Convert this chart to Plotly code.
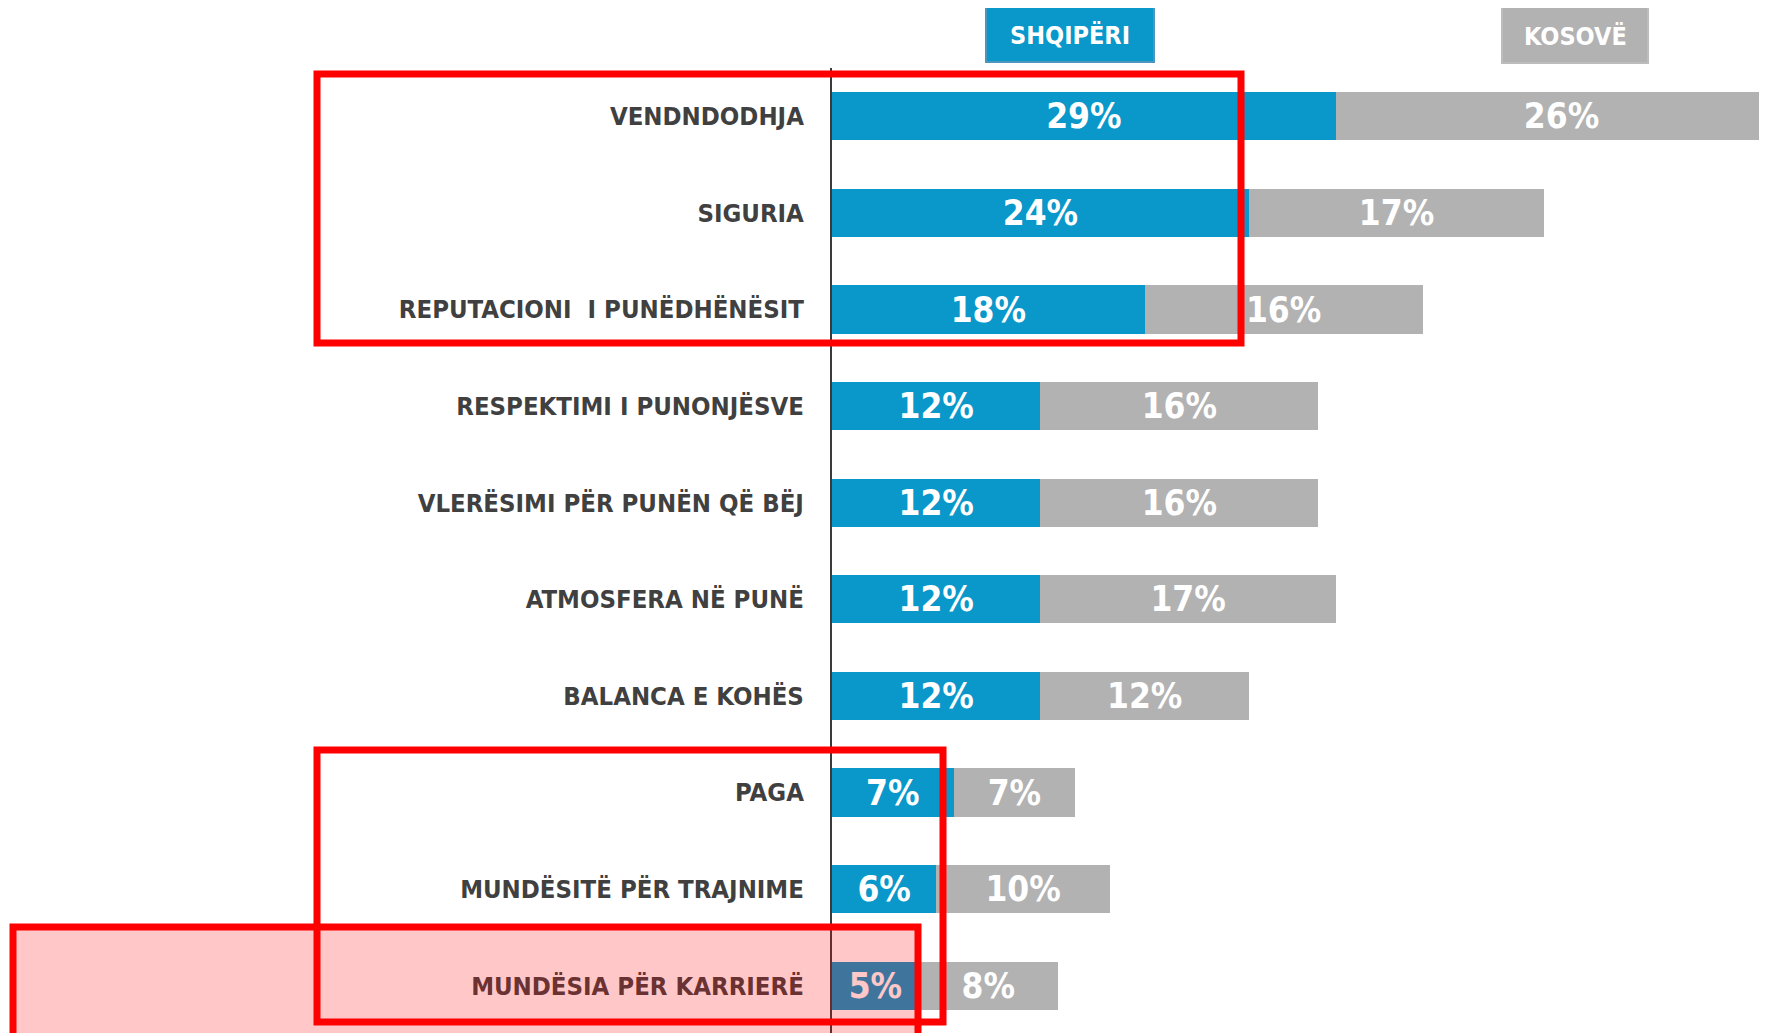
import plotly.graph_objects as go

# ---- data ----
categories = [
    "VENDNDODHJA",
    "SIGURIA",
    "REPUTACIONI  I PUNËDHËNËSIT",
    "RESPEKTIMI I PUNONJËSVE",
    "VLERËSIMI PËR PUNËN QË BËJ",
    "ATMOSFERA NË PUNË",
    "BALANCA E KOHËS",
    "PAGA",
    "MUNDËSITË PËR TRAJNIME",
    "MUNDËSIA PËR KARRIERË",
]
series_names = ["SHQIPËRI", "KOSOVË"]
shqiperi = [29, 24, 18, 12, 12, 12, 12, 7, 6, 5]
kosove = [26, 17, 16, 16, 16, 17, 12, 7, 10, 8]

W, H = 1767, 1033
OFF = 8  # page body margin compensation
FONT = "DejaVu Sans Condensed, Liberation Sans Narrow, sans-serif"
BLUE = "#0A97CA"
GRAY = "#B2B2B2"

fig = go.Figure()
for name, vals, col in [(series_names[0], shqiperi, BLUE), (series_names[1], kosove, GRAY)]:
    fig.add_trace(go.Bar(
        y=categories, x=vals, orientation="h", name=name,
        marker=dict(color=col, line=dict(width=0)),
        text=[f"{v}%" for v in vals],
        textposition="inside", insidetextanchor="middle",
        textfont=dict(family=FONT, size=35, color="white", weight="bold"),
        constraintext="none", showlegend=False,
    ))

def fx(x):  # reference pixel -> paper x
    return (x - OFF) / W

def fy(y):  # reference pixel -> paper y
    return 1 - (y - OFF) / H

fig.update_layout(
    width=W, height=H,
    margin=dict(l=0, r=0, t=0, b=0),
    paper_bgcolor="white", plot_bgcolor="white",
    barmode="stack", bargap=0.5,
    font=dict(family=FONT),
    xaxis=dict(domain=[fx(832), 1], range=[0, (W - 832 + OFF) / 17.37], visible=False),
    yaxis=dict(domain=[fy(1034), fy(68)], type="category", autorange="reversed",
               showline=True, linecolor="#3A3A3A", linewidth=2,
               ticks="outside", ticklen=21, tickcolor="rgba(0,0,0,0)",
               showgrid=False, zeroline=False,
               tickfont=dict(family=FONT, size=25.5, color="#404040", weight="bold")),
)

# legend boxes
legend_boxes = [
    (series_names[0], BLUE, 986, 6, 1154, 62, "#4C95BF"),
    (series_names[1], GRAY, 1502, 7, 1648, 63, "#BDBDBD"),
]
for txt, col, x0, y0, x1, y1, bcol in legend_boxes:
    fig.add_shape(type="rect", xref="paper", yref="paper",
                  x0=fx(x0), x1=fx(x1), y0=fy(y1), y1=fy(y0),
                  fillcolor=col, line=dict(width=2, color=bcol))
    fig.add_annotation(xref="paper", yref="paper", x=fx((x0 + x1) / 2), y=fy((y0 + y1) / 2 + 1),
                       text=txt, showarrow=False,
                       font=dict(family=FONT, size=25, color="white", weight="bold"),
                       xanchor="center", yanchor="middle")

# red highlight rectangles
RED = "#FF0000"
fig.add_shape(type="rect", xref="paper", yref="paper", layer="above",
              x0=fx(317), x1=fx(1241), y0=fy(343), y1=fy(74),
              line=dict(color=RED, width=7), fillcolor="rgba(0,0,0,0)")
fig.add_shape(type="rect", xref="paper", yref="paper", layer="above",
              x0=fx(317), x1=fx(943), y0=fy(1022), y1=fy(750),
              line=dict(color=RED, width=7), fillcolor="rgba(0,0,0,0)")
fig.add_shape(type="rect", xref="paper", yref="paper", layer="above",
              x0=fx(13), x1=fx(918), y0=fy(1060), y1=fy(927),
              line=dict(color=RED, width=7), fillcolor="rgba(255,0,0,0.22)")

fig.write_html("out.html")
